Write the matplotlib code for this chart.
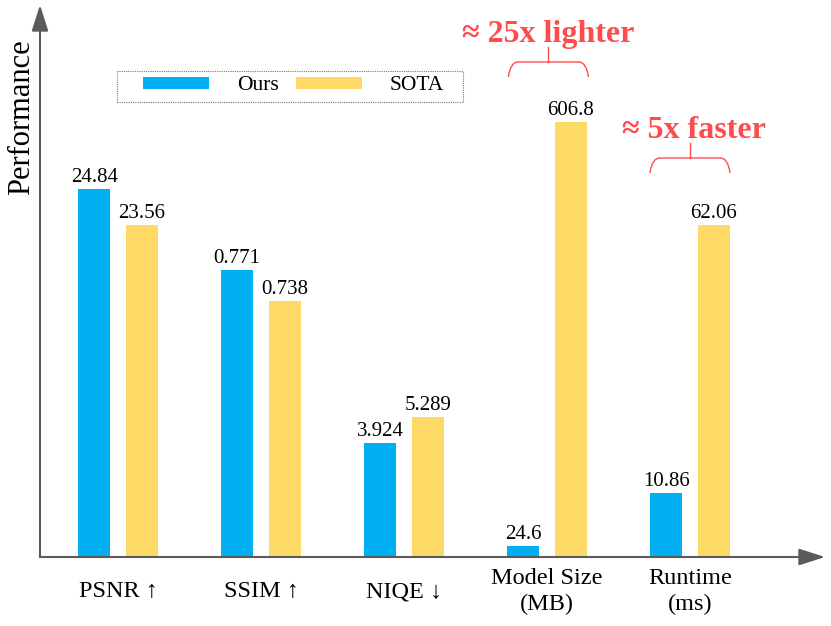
import numpy as np
import matplotlib
matplotlib.use("Agg")
import matplotlib.pyplot as plt
from matplotlib.path import Path
from matplotlib.patches import PathPatch, Rectangle

plt.rcParams['font.family'] = ['Liberation Serif', 'DejaVu Serif']

# data
metrics = ['PSNR ↑', 'SSIM ↑', 'NIQE ↓', 'Model Size\n(MB)', 'Runtime\n(ms)']
ours_labels = ['24.84', '0.771', '3.924', '24.6', '10.86']
sota_labels = ['23.56', '0.738', '5.289', '606.8', '62.06']
# bar heights as drawn (no common y scale in the chart)
ours_height = [368.5, 287.5, 114.5, 11.5, 64.5]
sota_height = [332.5, 256.5, 140.5, 435, 332.5]

c_ours = '#00B0F0'
c_sota = '#FFD966'
c_red = '#FF4B4B'
c_axis = '#5A5A5A'

fig = plt.figure(figsize=(8.31, 6.26), dpi=100)
ax = fig.add_axes([40 / 831, 69 / 626, 785 / 831, 552 / 626])

x = np.arange(len(metrics))
w = 0.224
off = 0.166
b1 = ax.bar(x - off, ours_height, w, color=c_ours, label='Ours')
b2 = ax.bar(x + off, sota_height, w, color=c_sota, label='SOTA')

for bars, labs in ((b1, ours_labels), (b2, sota_labels)):
    for r, t in zip(bars, labs):
        ax.annotate(t, (r.get_x() + r.get_width() / 2, r.get_height()),
                    xytext=(0, 5), textcoords='offset points',
                    ha='center', va='baseline', fontsize=15)

ax.set_xlim(-0.545, 4.944)
ax.set_ylim(0, 552)
ax.set_xticks(x)
ax.set_xticklabels(metrics, fontsize=17.5, linespacing=1.3)
for lab in ax.get_xticklabels():
    lab.set_va('center')
ax.tick_params(axis='x', length=0, pad=25)
ax.set_yticks([])
for s in ax.spines.values():
    s.set_visible(False)

# axes with arrow heads
arr = dict(arrowstyle='-|>,head_length=1.0,head_width=0.32', color=c_axis,
           lw=1.5, mutation_scale=16, shrinkA=0, shrinkB=0)
ax.annotate('', xy=(1, 0), xytext=(0, 0), xycoords='axes fraction', arrowprops=arr)
ax.annotate('', xy=(0, 1), xytext=(0, 0), xycoords='axes fraction', arrowprops=arr)

ax.text(-18.4 / 785, (557 - 117) / 552, 'Performance', transform=ax.transAxes,
        rotation=90, ha='center', va='center', fontsize=22)

# legend
ax.legend(loc='center left', bbox_to_anchor=(103 / 785, 471 / 552), ncol=2,
          frameon=False, fontsize=15.5, borderpad=0, borderaxespad=0,
          handlelength=3.07, handleheight=0.51, handletextpad=1.3,
          columnspacing=0.79)
ax.add_patch(Rectangle((77 / 785, 455 / 552), 346 / 785, 31 / 552,
                       transform=ax.transAxes, fill=False, ec='#777777',
                       lw=0.8, ls=(0, (1, 1)), clip_on=False))


def brace(xc, half, y0, y1, y2):
    px = 1 / 143
    verts = [(xc - half, y0), (xc - half + 2 * px, y1), (xc - half + 10 * px, y1),
             (xc + half - 10 * px, y1),
             (xc + half - 2 * px, y1), (xc + half, y0)]
    codes = [Path.MOVETO, Path.CURVE3, Path.CURVE3, Path.LINETO,
             Path.CURVE3, Path.CURVE3]
    ax.add_patch(PathPatch(Path(verts, codes), fill=False, ec=c_red, lw=1.0))
    ax.plot([xc, xc], [y1, y2], color=c_red, lw=1.0)


brace(3.01, 0.28, 480, 495, 510)
brace(4.0, 0.28, 384, 399, 414)
ax.text(3.01, 515, '≈ 25x lighter', ha='center', va='baseline',
        fontsize=23, fontweight='bold', color=c_red)
ax.text(4.03, 419, '≈ 5x faster', ha='center', va='baseline',
        fontsize=23, fontweight='bold', color=c_red)

fig.savefig('out.png', dpi=100)
